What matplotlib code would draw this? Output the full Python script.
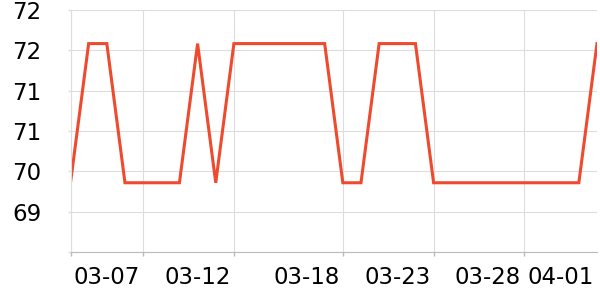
import matplotlib
matplotlib.use("Agg")
import matplotlib.pyplot as plt
from matplotlib.ticker import FuncFormatter

dates = ["03-05", "03-06", "03-07", "03-08", "03-09", "03-10", "03-11", "03-12",
         "03-13", "03-14", "03-15", "03-16", "03-17", "03-18", "03-19", "03-20",
         "03-21", "03-22", "03-23", "03-24", "03-25", "03-26", "03-27", "03-28",
         "03-29", "03-30", "03-31", "04-01", "04-02", "04-03"]
values = [69.83, 71.9, 71.9, 69.83, 69.83, 69.83, 69.83, 71.9, 69.83, 71.9,
          71.9, 71.9, 71.9, 71.9, 71.9, 69.83, 69.83, 71.9, 71.9, 71.9,
          69.83, 69.83, 69.83, 69.83, 69.83, 69.83, 69.83, 69.83, 69.83, 71.9]

label_dates = ["03-07", "03-12", "03-18", "03-23", "03-28", "04-01"]
grid_dates = ["03-05", "03-09", "03-14", "03-20", "03-25", "03-30"]
y_ticks = [68.8, 69.4, 70.0, 70.6, 71.2, 71.8, 72.4]

x = list(range(len(dates)))

fig = plt.figure(figsize=(6, 3), dpi=100)
ax = fig.add_axes([0.1175, 0.16, 0.8775, 0.8067])

ax.plot(x, values, color="#ee4a2e", lw=2.2, solid_joinstyle="miter")

ax.set_xlim(0, len(dates) - 1)
ax.set_ylim(y_ticks[0], y_ticks[-1])

# labels sit on the dates, grid lines on separate positions
ax.set_xticks([dates.index(d) for d in label_dates])
ax.set_xticklabels(label_dates)
ax.set_xticks([dates.index(d) for d in grid_dates], minor=True)
ax.tick_params(axis="x", which="major", length=0, pad=10, labelsize=16.5)
ax.tick_params(axis="x", which="minor", length=3, width=1, color="#bbbbbb")
ax.grid(axis="x", which="minor", color="#dddddd", lw=0.8)

ax.set_yticks(y_ticks)
ax.yaxis.set_major_formatter(FuncFormatter(lambda v, p: "" if p == 0 else "{:.0f}".format(v)))
ax.tick_params(axis="y", length=2, width=1, color="#dddddd", pad=19, labelsize=16.5)
ax.grid(axis="y", color="#dddddd", lw=0.8)

ax.spines["top"].set_visible(False)
ax.spines["right"].set_visible(False)
ax.spines["left"].set_color("#dddddd")
ax.spines["bottom"].set_color("#bbbbbb")
ax.set_axisbelow(True)

fig.savefig("out.png", dpi=100)
